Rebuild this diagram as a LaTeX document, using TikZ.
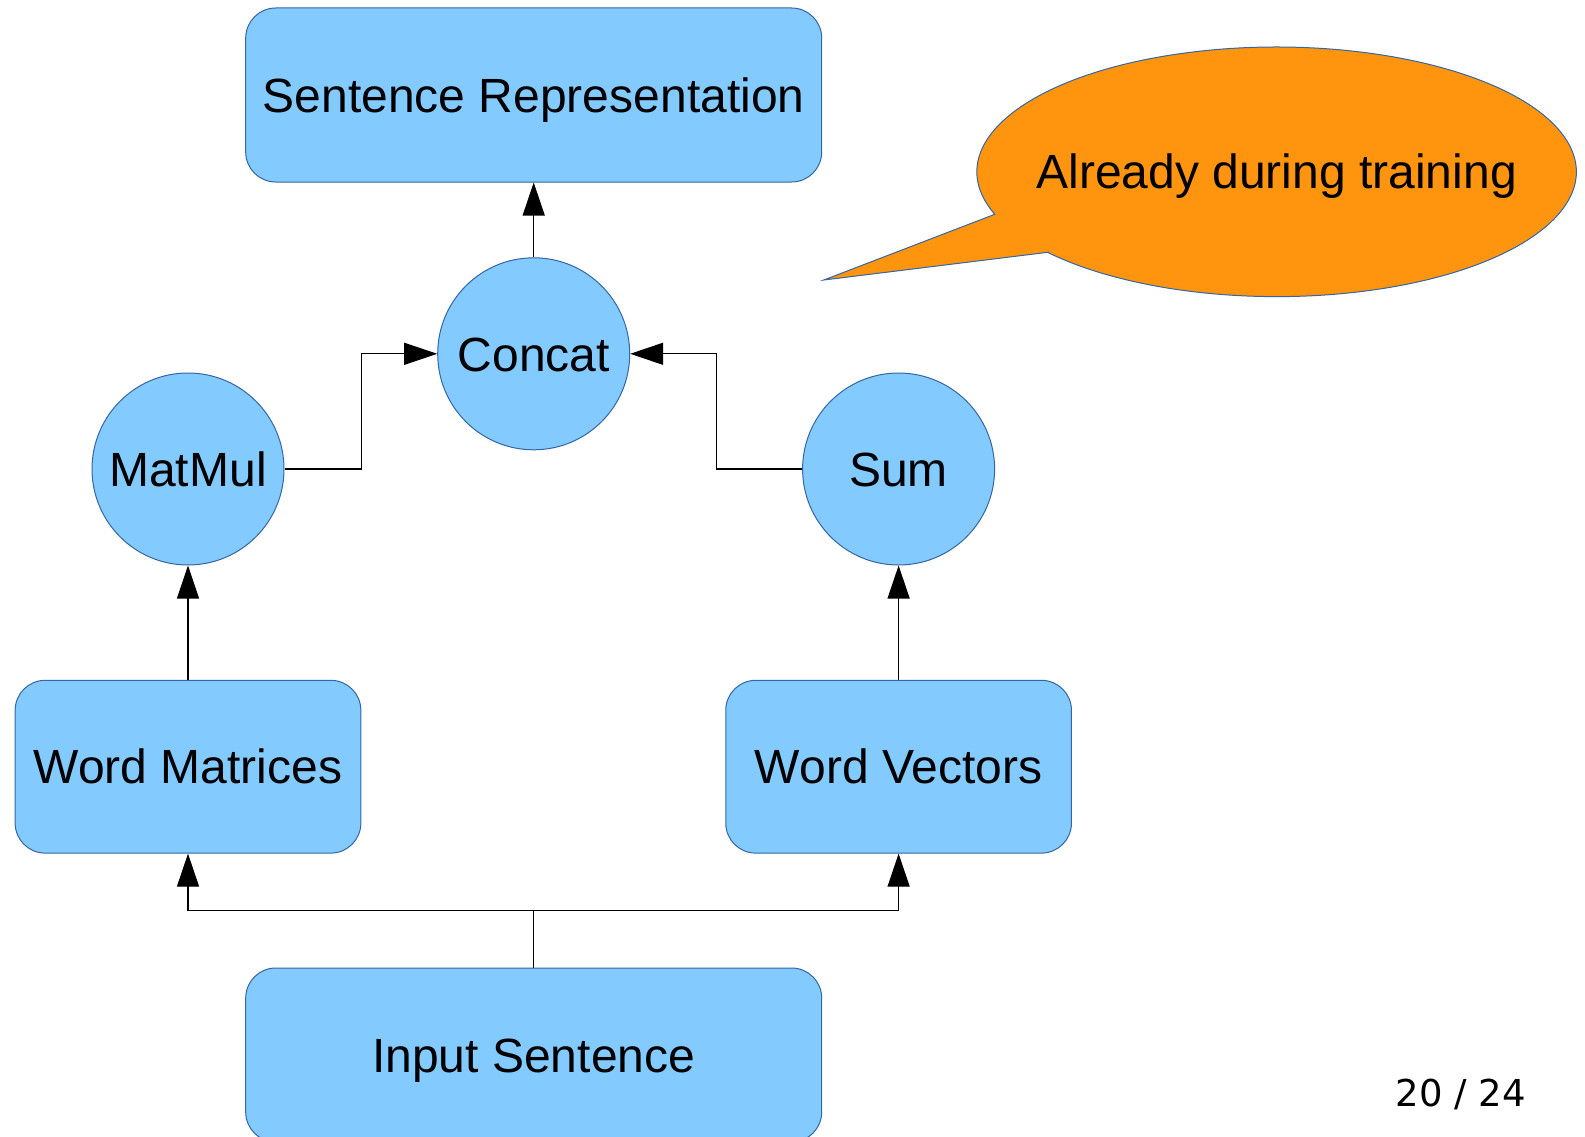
\documentclass[tikz,border=0pt]{standalone}
\usepackage{fontspec}
\setmainfont{Liberation Sans}
\newfontfamily\pagefont{DejaVu Sans}
\usetikzlibrary{arrows.meta,calc}
\definecolor{boxblue}{RGB}{131,202,255}
\definecolor{edgeblue}{RGB}{52,101,164}
\definecolor{calloutorange}{RGB}{255,149,14}
\begin{document}
\begin{tikzpicture}[x=1pt,y=1pt,
  caption/.style={font=\fontsize{48}{58}\selectfont, text height=34.4pt, text depth=0pt},
  block/.style={caption, draw=edgeblue, fill=boxblue, line width=1pt, rounded corners=30pt, inner sep=0pt},
  opnode/.style={caption, draw=edgeblue, fill=boxblue, line width=1pt, circle, minimum size=192pt, inner sep=0pt},
  link/.style={line width=1.2pt, -{Triangle[length=33pt,width=22pt]}},
  plainlink/.style={line width=1.2pt},
  bubble/.style={draw=edgeblue, fill=calloutorange, line width=1pt}]
\useasboundingbox (0,0) rectangle (1585,-1137);
\clip (0,0) rectangle (1585,-1137);

% boxes and operations
\node[block, minimum width=576pt, minimum height=174pt] (sent) at (533.7,-95) {Sentence Representation};
\node[opnode] (concat) at (533.7,-353.8) {Concat};
\node[opnode] (matmul) at (188,-469) {MatMul};
\node[opnode] (sum) at (898.6,-469) {Sum};
\node[block, minimum width=345.7pt, minimum height=172.8pt] (wmat) at (188,-766.7) {Word Matrices};
\node[block, minimum width=345.7pt, minimum height=172.8pt] (wvec) at (898.6,-766.7) {Word Vectors};
\node[block, minimum width=576pt, minimum height=174pt] (input) at (533.7,-1055) {Input Sentence};

% connectors
\draw[link] (concat.north) -- (sent.south);
\draw[link] (matmul.east) -- ++(76.9,0) |- (concat.west);
\draw[link] (sum.west) -- ++(-85.9,0) |- (concat.east);
\draw[link] (wmat.north) -- (matmul.south);
\draw[link] (wvec.north) -- (sum.south);
\coordinate (split) at ($(input.north)+(0,57.3)$);
\draw[plainlink] (input.north) -- (split);
\draw[link] (split) -| (wmat.south);
\draw[link] (split) -| (wvec.south);

% speech bubble
\coordinate (tip) at (823.8,-280);
\path[bubble] (1047.8,-252.3) -- (tip) -- (994.8,-214.3)
  arc[start angle=199.9, end angle=-139.8, x radius=299.7, y radius=124.8] -- cycle;
\node[caption] (note) at (1276.7,-171.8) {Already during training};

% page number
\node[font=\pagefont\fontsize{37}{45}\selectfont, anchor=base] (page) at (1461,-1106) {20 / 24};
\end{tikzpicture}
\end{document}
